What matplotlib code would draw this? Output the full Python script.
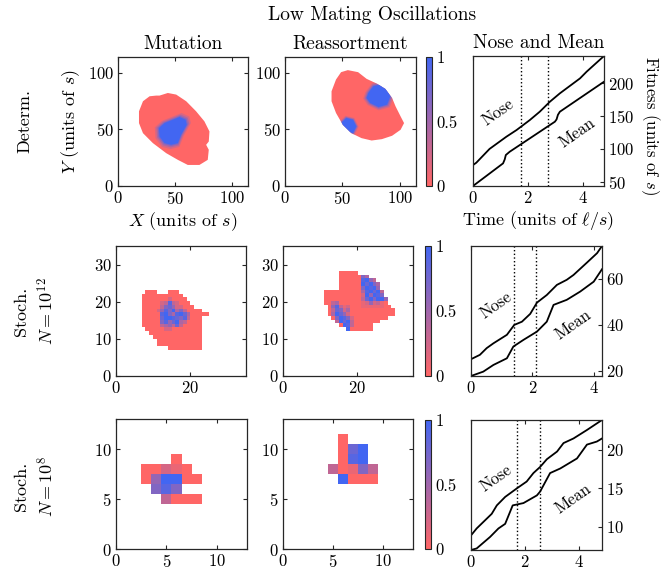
import matplotlib
matplotlib.use("Agg")
import matplotlib.pyplot as plt
import numpy as np
from matplotlib.colors import LinearSegmentedColormap
from matplotlib.patches import Polygon
from matplotlib.cm import ScalarMappable
from matplotlib.colors import Normalize

plt.rcParams['font.family'] = 'serif'
plt.rcParams['font.serif'] = ['cmr10']
plt.rcParams['mathtext.fontset'] = 'cm'
plt.rcParams['axes.formatter.use_mathtext'] = True
plt.rcParams['axes.unicode_minus'] = False

# ---- deterministic fronts (outline of occupied region, blue = reassortant fraction 1)
det_mut_x = [36.4, 43.7, 51, 59.8, 68.5, 75.8, 80.2, 79.6, 77.3, 79.6, 78.7, 71.4, 61.2,
             52.5, 42.3, 30.6, 21.9, 18.4, 18.4, 21.9, 27.7, 33.5]
det_mut_y = [79.9, 82.2, 80.8, 74.9, 66, 57.1, 48.2, 39.3, 36.4, 32, 23.1, 18.6, 18.6,
             23.1, 29, 37.9, 46.7, 55.6, 66, 74.9, 79.3, 79.9]
det_mut_blue = [([54, 59.2, 60.3, 55.4, 52.5, 46.6, 40.8, 36.4, 35.9, 40.8, 48.1],
                 [61, 58.6, 54.1, 45.3, 37.9, 36.4, 37.9, 43.8, 51.2, 55.6, 58.6])]

det_rea_x = [54.7, 63.6, 71, 79.9, 87.3, 93.2, 96.2, 100.6, 103.6, 100.6, 93.2, 84.3, 75.4,
             66.6, 57.7, 50.3, 44.4, 40.5, 40.5, 44.4, 48.8]
det_rea_y = [102.4, 100.6, 94.7, 90.5, 85.8, 77.8, 70.4, 61.5, 55.6, 49.7, 44.4, 41.4, 40.2,
             42.3, 46.7, 54.1, 64.5, 74.9, 83.7, 94.1, 100.6]
det_rea_blue = [([72.5, 76.9, 82.8, 88.8, 91.7, 88.8, 81.4, 74, 71],
                 [82.2, 88.2, 89.6, 85.2, 79.3, 71.9, 69.8, 73.4, 77.8]),
                ([53.3, 59.2, 62.1, 59.2, 54.7, 50.3, 49.4],
                 [60.1, 58.6, 52.7, 46.7, 48.2, 52.7, 56.2])]

# ---- stochastic grids: '.' empty, digit = blue fraction in ninths; first row is the top
st12_mut_x0, st12_mut_top = 6, 22
st12_mut = ["..000...000",
            ".00000000000",
            ".000000020000",
            ".0000023832000",
            ".00000367522000",
            ".0000258694630000",
            ".000008964897400000",
            ".0000079987683000",
            ".0000068579430000",
            ".0000034537300000",
            "..000002200000000",
            "...00000000000000",
            "....0000000000000",
            ".....000000000000",
            ".....000000000000",
            "........000000000"]

st12_rea_x0, st12_rea_top = 11, 27
st12_rea = ["....00000",
            "....00000064",
            "....0000008953",
            "....00000097964",
            "....00000069895",
            "0000000000489793",
            "0000000000295986",
            "00000000003796995",
            "00340000001252310",
            ".05831200011111100",
            ".037624000000000000",
            ".049752000000000000",
            "..069862000000000",
            "...397930000000",
            "....098300000",
            "......9000000"]

st8_mut_x0, st8_mut_top = 3, 9
st8_mut = ["...0",
           "00210",
           "059900",
           ".686",
           "..3000"]

st8_rea_x0, st8_rea_top = 5, 11
st8_rea = [".0",
           ".079",
           ".089",
           "30163",
           ".9000"]

# ---- nose and mean fitness trajectories
t_nose1 = [0, 0.12, 0.6, 1.21, 1.58, 2.06, 2.42, 2.79, 3.15, 3.88, 4.12, 4.75]
nose1 = [75.4, 79, 100, 118.6, 128.8, 144, 156.7, 172, 184.7, 207.5, 217.7, 241.6]
t_mean1 = [0, 1.09, 1.15, 1.19, 1.33, 2.97, 3.03, 3.08, 3.15, 4.75]
mean1 = [43.5, 78, 84, 90.7, 95.7, 141.5, 145, 152, 156.7, 202.4]
osc1 = [1.73, 2.73]

t_nose2 = [0, 0.29, 0.51, 0.73, 1.17, 1.41, 1.66, 1.93, 2.15, 2.47, 2.8, 3.12, 3.34, 3.78, 4.11, 4.27]
nose2 = [25.1, 27, 29.9, 32, 35.7, 40, 41.4, 44.8, 49.7, 53, 57.4, 59.6, 61.7, 67.1, 71.2, 74.3]
t_mean2 = [0, 0.4, 0.73, 1.17, 1.38, 1.71, 2.15, 2.47, 2.69, 3.12, 3.56, 4.0, 4.27]
mean2 = [17.8, 19.7, 22.6, 25.5, 30.6, 33.5, 37.1, 41.4, 48.7, 50.9, 54.5, 58.8, 64.2]
osc2 = [1.41, 2.11]

t_nose3 = [0, 0.21, 0.77, 0.96, 1.27, 1.70, 2.07, 2.32, 2.57, 2.82, 3.2, 3.44, 3.81, 4.31, 4.87]
nose3 = [8.9, 9.8, 11.7, 12.8, 13.9, 15, 15.9, 17, 17.8, 18.8, 19.8, 20.9, 21.5, 22.6, 23.9]
t_mean3 = [0, 0.21, 0.71, 1.02, 1.27, 1.55, 1.95, 2.45, 2.57, 2.94, 3.32, 3.94, 4.31, 4.68, 4.87]
mean3 = [7, 7.2, 8.7, 9.8, 10.4, 12.8, 13.1, 14.1, 14.6, 17, 17.6, 18.9, 20.7, 21.1, 21.5]
osc3 = [1.70, 2.55]

RED = (1.0, 0.4, 0.4)
BLUE = (0.26, 0.4, 0.95)
cmap = LinearSegmentedColormap.from_list('rb', [RED, BLUE])
SPINE = '0.15'

W, H = 665, 573
fig = plt.figure(figsize=(W / 100, H / 100), dpi=100)


def px_axes(x0, y0, x1, y1):
    return fig.add_axes([x0 / W, 1 - y1 / H, (x1 - x0) / W, (y1 - y0) / H])


def style(ax):
    for s in ax.spines.values():
        s.set_color(SPINE)
        s.set_linewidth(0.9)
    ax.tick_params(direction='in', top=True, right=True, labelsize=12, length=3,
                   color=SPINE, pad=3)


def det_panel(ax, xs, ys, blues):
    red = Polygon(np.column_stack([xs, ys]), closed=True, color=RED, lw=0)
    ax.add_patch(red)
    for bx, by in blues:
        bx, by = np.array(bx), np.array(by)
        cx, cy = bx.mean(), by.mean()
        for f, a in [(1.3, 0.2), (1.18, 0.3), (1.08, 0.45), (1.0, 1.0)]:
            p = ax.fill(cx + f * (bx - cx), cy + f * (by - cy), color=BLUE, alpha=a, lw=0)[0]
            p.set_clip_path(red)
    ax.set_xlim(0, 114)
    ax.set_ylim(0, 114)
    ax.set_xticks([0, 50, 100])
    ax.set_yticks([0, 50, 100])
    style(ax)


def grid_panel(ax, rows, x0, top, half, lim, xt, yt):
    ncol = max(len(r) for r in rows)
    arr = np.full((len(rows), ncol), np.nan)
    for i, r in enumerate(rows):
        for j, ch in enumerate(r):
            if ch != '.':
                arr[i, j] = int(ch) / 9
    off = 0.5 if half else 0.0
    ext = [x0 - off, x0 - off + ncol, top - off + 1 - len(rows), top - off + 1]
    ax.imshow(np.ma.masked_invalid(arr), cmap=cmap, vmin=0, vmax=1, extent=ext,
              origin='upper', interpolation='nearest', aspect='auto')
    ax.set_xlim(0, lim)
    ax.set_ylim(0, lim)
    ax.set_xticks(xt)
    ax.set_yticks(yt)
    style(ax)


def cbar(x0, y0, x1, y1):
    cax = px_axes(x0, y0, x1, y1)
    cb = fig.colorbar(ScalarMappable(Normalize(0, 1), cmap), cax=cax, ticks=[0, 0.5, 1])
    cb.ax.set_yticklabels(['0', '0.5', '1'])
    cb.outline.set_edgecolor(SPINE)
    cb.ax.tick_params(direction='in', length=0, labelsize=12, pad=3)


def traj_panel(ax, tn, n, tm, m, osc, yt, lab):
    ax.plot(tn, n, color='k', lw=1.3)
    ax.plot(tm, m, color='k', lw=1.3)
    for v in osc:
        ax.axvline(v, color='k', ls=':', lw=1)
    ax.set_xlim(0, max(tn[-1], tm[-1]))
    ax.set_ylim(min(m), max(n))
    ax.set_xticks([0, 2, 4])
    ax.set_yticks(yt)
    style(ax)
    ax.tick_params(left=False, labelleft=False, labelright=True)
    (nx, ny), (mx, my) = lab
    ax.text(nx, ny, 'Nose', rotation=35, ha='center', va='center', fontsize=12)
    ax.text(mx, my, 'Mean', rotation=35, ha='center', va='center', fontsize=12)


# row 1
a = px_axes(118, 57, 248, 186)
det_panel(a, det_mut_x, det_mut_y, det_mut_blue)
a.set_title('Mutation', fontsize=14, pad=6)
a.set_xlabel('$X$ (units of $s$)', fontsize=13, labelpad=2)
a.set_ylabel('$Y$ (units of $s$)', fontsize=13, labelpad=4)
a = px_axes(285, 57, 416, 186)
det_panel(a, det_rea_x, det_rea_y, det_rea_blue)
a.set_title('Reassortment', fontsize=14, pad=6)
cbar(426, 57, 432, 186)
a = px_axes(473, 56, 604, 186)
traj_panel(a, t_nose1, nose1, t_mean1, mean1, osc1, [50, 100, 150, 200],
           ((0.9, 156), (3.77, 124)))
a.set_title('Nose and Mean', fontsize=14, pad=6)
a.set_xlabel(r'Time (units of $\ell/s$)', fontsize=13, labelpad=2)
fig.text(650 / W, 1 - 126 / H, 'Fitness (units of $s$)', rotation=270,
         ha='center', va='center', fontsize=12)

# row 2
a = px_axes(116, 246, 246, 376)
grid_panel(a, st12_mut, st12_mut_x0, st12_mut_top, False, 35, [0, 20], [0, 10, 20, 30])
a = px_axes(283, 246, 413, 376)
grid_panel(a, st12_rea, st12_rea_x0, st12_rea_top, False, 35, [0, 20], [0, 10, 20, 30])
cbar(425, 246, 431, 376)
a = px_axes(471, 246, 602, 376)
traj_panel(a, t_nose2, nose2, t_mean2, mean2, osc2, [20, 40, 60],
           ((0.82, 48.7), (3.33, 40)))

# row 3
a = px_axes(116, 419, 247, 549)
grid_panel(a, st8_mut, st8_mut_x0, st8_mut_top, True, 13, [0, 5, 10], [0, 5, 10])
a = px_axes(283, 419, 413, 549)
grid_panel(a, st8_rea, st8_rea_x0, st8_rea_top, True, 13, [0, 5, 10], [0, 5, 10])
cbar(425, 420, 431, 549)
a = px_axes(471, 420, 602, 550)
traj_panel(a, t_nose3, nose3, t_mean3, mean3, osc3, [10, 15, 20],
           ((0.93, 16.3), (3.8, 13.7)))

fig.text(372 / W, 1 - 15 / H, 'Low Mating Oscillations', ha='center', va='center', fontsize=14)
fig.text(25 / W, 1 - 121 / H, 'Determ.', rotation=90, ha='center', va='center', fontsize=13)
fig.text(35 / W, 1 - 311 / H, 'Stoch.\n$N=10^{12}$', rotation=90, ha='center', va='center',
         fontsize=13, multialignment='center', linespacing=1.4)
fig.text(35 / W, 1 - 486 / H, 'Stoch.\n$N=10^{8}$', rotation=90, ha='center', va='center',
         fontsize=13, multialignment='center', linespacing=1.4)

fig.savefig('out.png', dpi=100)
